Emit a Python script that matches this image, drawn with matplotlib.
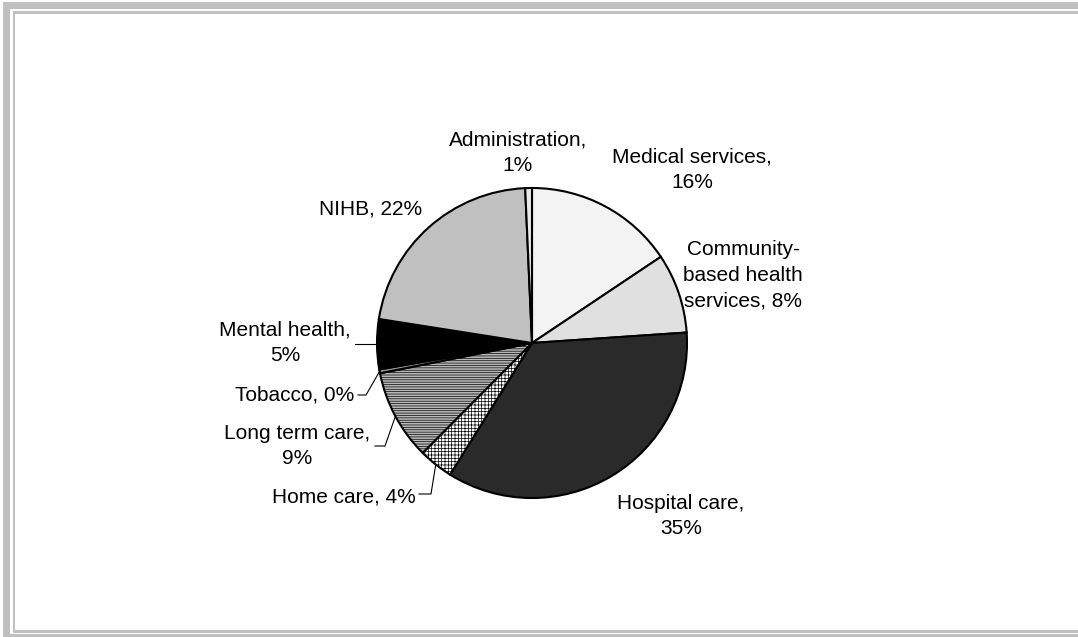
import matplotlib
matplotlib.use("Agg")
import matplotlib.pyplot as plt
from matplotlib.patches import Rectangle
import numpy as np

plt.rcParams['font.family'] = ['Liberation Sans', 'DejaVu Sans']
plt.rcParams['hatch.linewidth'] = 0.5

categories = ["Medical services", "Community-based health services", "Hospital care",
              "Home care", "Long term care", "Tobacco", "Mental health", "NIHB",
              "Administration"]
shares = [15.6, 8.3, 34.9, 3.6, 9.4, 0.4, 5.2, 21.8, 0.7]
label_texts = ["Medical services,\n16%", "Community-\nbased health\nservices, 8%",
               "Hospital care,\n35%", "Home care, 4%", "Long term care,\n9%",
               "Tobacco, 0%", "Mental health,\n5%", "NIHB, 22%", "Administration,\n1%"]
face_colors = ["#f3f3f3", "#e0e0e0", "#2a2a2a", "white", "#b8b8b8", "#909090",
               "black", "#c0c0c0", "#e8e8e8"]
hatches = [None, None, None, "+++++", "-------", None, None, None, None]

W, H = 1078, 637
CX, CY, R = 532, 343, 155

fig = plt.figure(figsize=(W / 100, H / 100), dpi=100)
ax = fig.add_axes([0, 0, 1, 1])


def px(x, y):
    # pixel position (from top-left) -> data coords
    return (x - CX) / R, (CY - y) / R


wedges, _ = ax.pie(shares, startangle=90, counterclock=False, colors=face_colors,
                   wedgeprops=dict(edgecolor="black", linewidth=1.5))
for w, h in zip(wedges, hatches):
    if h:
        w.set_hatch(h)

# pie() resets the limits, so set them afterwards
ax.set_xlim(-CX / R, (W - CX) / R)
ax.set_ylim(-(H - CY) / R, CY / R)
ax.axis("off")

# label positions (pixel centers), alignment
label_pos = [(692, 170, "center"), (743, 275, "center"), (681, 516, "center"),
             (416, 497, "right"), (297, 446, "center"), (354, 395, "right"),
             (285, 343, "center"), (371, 209, "center"), (518, 153, "center")]
for txt, (x, y, ha) in zip(label_texts, label_pos):
    tx, ty = px(x, y)
    ax.text(tx, ty, txt, ha=ha, va="center", ma="center", fontsize=15,
            linespacing=1.45)

# leader lines: from label anchor to wedge edge midpoint
leaders = {3: (419, 494, 12), 4: (375, 446, 10), 5: (358, 395, 8), 6: (355, 344, 0)}
for i, (x, y, dx) in leaders.items():
    w = wedges[i]
    mid = np.deg2rad((w.theta1 + w.theta2) / 2)
    ex, ey = np.cos(mid), np.sin(mid)
    x0, y0 = px(x, y)
    x1, _ = px(x + dx, y)
    if dx == 0:
        ax.plot([x0, ex], [y0, y0], color="black", lw=0.8)
    else:
        ax.plot([x0, x1, ex], [y0, y0, ey], color="black", lw=0.8)

# frame
gray = "#c0c0c0"
frame = [(3, 2, 7, 635), (3, 2, W, 7), (3, 634, W, 3),
         (13, 11, 2, 622), (13, 11, W, 3), (13, 630, W, 3)]
for x, y, w, h in frame:
    fig.add_artist(Rectangle((x / W, 1 - (y + h) / H), w / W, h / H,
                             transform=fig.transFigure, color=gray, lw=0))

fig.savefig("out.png", dpi=100)
